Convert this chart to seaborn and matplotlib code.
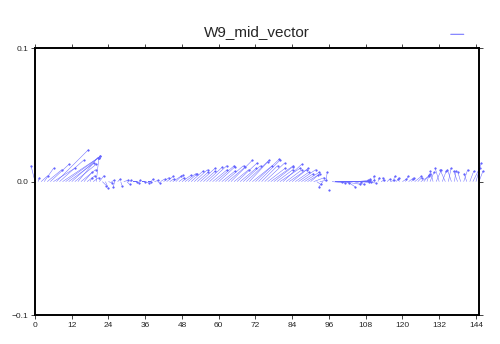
import numpy as np
import seaborn as sns
import matplotlib
matplotlib.use("Agg")
import matplotlib.pyplot as plt

# hourly current components (x 1e-3)
hours = np.arange(0, 146)
u_vals = [-3, 1, 5, 7, 11, 14, 16, 24, 18, 27,
          26, 19, 21, 16, 15, 11, 6, 6, 1.5, 4,
          2, 3.5, 3, 2, 3, 2, -1, 2, 1, 3,
          2, 1, 3, 2, 1, 2, 3, 2, 1, 3,
          2, 3, 4, 5, 3, 6, 5, 4, 7, 8,
          7, 9, 10, 8, 11, 9, 12, 13, 11, 14,
          12, 10, 14, 13, 16, 11, 15, 12, 13, 17,
          14, 15, 18, 16, 12, 15, 13, 17, 14, 12,
          15, 14, 12, 13, 12, 10, 13, 9, 11, 8,
          7, 8, 3, 5, -3, 1, 0, 10, 5, 8,
          15, 12, 6, 14, 8, 10, 12, 6, 2, 1,
          2, -1, 1, 2, -1, 2, 3, 1, 2, -1,
          3, 2, 4, 1, 5, 3, 6, 4, 2, 3,
          -2, 4, -3, 3, -4, 2, -3, 1, -3, -2,
          3, -2, 3, 5, 4, 3]
v_vals = [12, 3, 4.5, 10, 9, 13, 10, 24, 16, 18,
          19, 14, 19, 13, 18, 9, 7, 4.5, 3, 3,
          18, 4.5, -3, -4.5, -1, 1, -4, 2, -3, 1,
          -2, 1, 0, -1, 1, 0, -1, 0, 2, 1,
          -1, 2, 3, 4, 2, 4, 5, 3, 5, 6,
          6, 8, 9, 7, 10, 8, 11, 12, 9, 12,
          11, 8, 12, 11, 16, 9, 14, 10, 12, 16,
          15, 12, 17, 16, 12, 14, 10, 12, 11, 9,
          10, 13, 9, 9, 10, 7, 9, 6, 7, 5,
          6, 3, -2, 1, -4, 7, -6, -1, 0, -1,
          0, -2, -4, 0, -2, 1, -1, 0, 1, 2,
          1, 4, 3, 1, 3, 2, 1, 4, 3, 2,
          2, 4, 3, 2, 4, 3, 4, 5, 6, 7,
          8, 9, 10, 8, 9, 10, 9, 8, 8, 7,
          9, 6, 8, 10, 14, 8]
u = np.array(u_vals) * 1e-3
v = np.array(v_vals) * 1e-3

blue = "#6464ff"
xticks = np.arange(0, 145, 12)
yticks = [-0.1, 0.0, 0.1]

sns.set_style("ticks")
plt.rcParams["font.family"] = ["Liberation Sans", "DejaVu Sans"]

fig = plt.figure(figsize=(5.0, 3.44), dpi=100)
ax = fig.add_axes([0.07, 0.084, 0.888, 0.776])
ax.set_xlim(0, 145)
ax.set_ylim(-0.1, 0.1)

# equal pixel scaling for both components
bbox = ax.get_window_extent()
k = (bbox.height / 0.2) / (bbox.width / 145.0)

ax.quiver(hours, np.zeros_like(v), u * k, v, angles="xy", scale_units="xy", scale=1,
          color=blue, width=0.0011, headwidth=0, headlength=0, headaxislength=0,
          clip_on=False)
sns.scatterplot(x=hours + u * k, y=v, ax=ax, s=1.5, color=blue, edgecolor=blue,
                linewidth=0.3, legend=False, clip_on=False)

# reference vector in the top-right corner
ax.annotate("", xy=(0.972, 1.052), xytext=(0.93, 1.052), xycoords="axes fraction",
            arrowprops=dict(arrowstyle="-", color=blue, lw=0.7))

ax.set_xticks(xticks)
ax.set_yticks(yticks)
ax.tick_params(direction="out", length=3, width=0.6, labelsize=6, top=True, right=True,
               pad=2)
for s in ax.spines.values():
    s.set_linewidth(1.4)
    s.set_color("black")
ax.set_xlabel("")
ax.set_ylabel("")
ax.set_title("W9_mid_vector", fontsize=11, pad=9)

fig.savefig("out.png", dpi=100)
